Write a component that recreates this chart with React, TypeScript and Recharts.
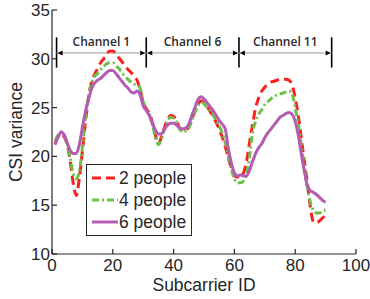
import React from 'react';
import { LineChart, Line, XAxis, YAxis, ReferenceLine, ReferenceDot, Label } from 'recharts';

const subcarrierIds = [
  1, 2, 3, 4, 5, 6, 7, 8, 9, 10, 11, 12, 13, 14, 15, 16, 17, 18, 19, 20,
  21, 22, 23, 24, 25, 26, 27, 28, 29, 30, 31, 32, 33, 34, 35, 36, 37, 38, 39, 40,
  41, 42, 43, 44, 45, 46, 47, 48, 49, 50, 51, 52, 53, 54, 55, 56, 57, 58, 59, 60,
  61, 62, 63, 64, 65, 66, 67, 68, 69, 70, 71, 72, 73, 74, 75, 76, 77, 78, 79, 80,
  81, 82, 83, 84, 85, 86, 87, 88, 89, 90,
];

const twoPeople = [
  21.3, 22.0, 22.3, 22.0, 21.2, 19.5, 17.2, 16.0, 17.8, 20.5,
  23.5, 26.0, 27.6, 28.4, 29.0, 29.6, 30.0, 30.5, 30.8, 30.8,
  30.5, 30.1, 29.7, 29.3, 28.9, 28.6, 28.2, 27.8, 26.8, 25.5,
  24.9, 24.4, 23.5, 22.2, 21.3, 22.0, 23.0, 23.8, 24.2, 24.1,
  23.6, 22.9, 22.6, 22.7, 23.0, 23.8, 24.6, 25.3, 25.7, 25.5,
  25.1, 24.6, 24.1, 23.5, 22.8, 22.0, 21.0, 19.8, 18.8, 18.0,
  17.9, 17.9, 18.3, 19.5, 21.5, 23.3, 25.0, 26.0, 26.7, 27.1,
  27.4, 27.6, 27.7, 27.8, 27.9, 27.9, 27.9, 27.8, 27.3, 26.0,
  24.2, 21.9, 19.5, 17.3, 14.8, 13.3, 13.2, 13.4, 13.7, 13.9,
];

const fourPeople = [
  21.6, 22.2, 22.5, 22.2, 21.3, 19.8, 18.2, 17.7, 18.5, 21.0,
  24.0, 26.2, 27.5, 28.2, 28.5, 28.9, 29.2, 29.5, 29.6, 29.6,
  29.3, 29.0, 28.6, 28.2, 27.9, 27.6, 27.4, 27.3, 27.0, 25.6,
  24.9, 24.3, 23.3, 22.0, 21.2, 21.8, 22.8, 23.6, 24.0, 23.9,
  23.5, 22.8, 22.5, 22.6, 22.9, 23.7, 24.5, 25.2, 25.5, 25.4,
  25.0, 24.6, 24.2, 23.7, 23.1, 22.4, 21.4, 20.0, 18.7, 17.7,
  17.3, 17.3, 17.5, 18.2, 20.0, 22.5, 23.6, 24.3, 24.8, 25.3,
  25.6, 25.9, 26.1, 26.3, 26.4, 26.5, 26.6, 26.7, 26.4, 25.0,
  23.3, 21.2, 18.9, 16.8, 15.3, 14.5, 14.2, 14.2, 14.4, 14.5,
];

const sixPeople = [
  21.2, 22.0, 22.5, 22.2, 21.4, 20.6, 20.3, 20.3, 21.2, 23.0,
  24.6, 25.8, 26.9, 27.5, 27.8, 28.0, 28.3, 28.6, 28.8, 28.8,
  28.5, 28.1, 27.7, 27.3, 27.0, 26.6, 26.5, 26.7, 26.3, 25.2,
  24.7, 24.2, 23.4, 22.7, 22.3, 22.3, 22.8, 23.2, 23.4, 23.4,
  23.2, 22.9, 22.8, 22.9, 23.3, 24.2, 25.0, 25.8, 26.1, 25.9,
  25.5, 25.1, 24.7, 24.2, 23.7, 23.3, 22.8, 20.8, 19.3, 18.3,
  18.0, 18.1, 18.0, 18.0, 18.6, 19.5, 20.3, 20.9, 21.3, 21.9,
  22.4, 22.8, 23.2, 23.6, 24.0, 24.2, 24.4, 24.5, 24.3, 23.6,
  22.2, 20.3, 18.5, 17.0, 16.5, 16.3, 16.1, 15.8, 15.5, 15.3,
];

const seriesNames = ['2 people', '4 people', '6 people'];
const seriesColors = ['#FF1F1F', '#6CC04A', '#B45CB4'];
const seriesDashes = ['9 5', '7 3 2 3', ''];

const xTicks = [0, 20, 40, 60, 80, 100];
const yTicks = [10, 15, 20, 25, 30, 35];

const channelNames = ['Channel 1', 'Channel 6', 'Channel 11'];
const channelBounds = [1.5, 31, 61.5, 92];
const channelBarLow = 29.1;
const channelBarHigh = 32.2;
const channelArrowY = 30.6;
const channelLabelY = 31.75;

const data = subcarrierIds.map((x, i) => ({
  x,
  s0: twoPeople[i],
  s1: fourPeople[i],
  s2: sixPeople[i],
}));

const FONT = '"Liberation Sans", Arial, sans-serif';
const TEXT = '#262626';

const ArrowHead = (dir: number) => (props: any) => {
  const { cx, cy } = props;
  const tip = cx + dir * 1;
  const base = cx + dir * 6;
  return (
    <polygon
      points={`${tip},${cy} ${base},${cy - 2.5} ${base},${cy + 2.5}`}
      fill="#000"
    />
  );
};

const ChannelText = (label: string) => (props: any) => {
  const { cx, cy } = props;
  return (
    <text
      x={cx}
      y={cy}
      textAnchor="middle"
      dominantBaseline="central"
      fontFamily='"Open Sans", sans-serif'
      fontWeight={600}
      fontSize={12}
      fill="#2a2a2a"
    >
      {label}
    </text>
  );
};

const LegendBox = () => (
  <div
    style={{
      position: 'absolute',
      left: 86,
      top: 164,
      width: 106,
      height: 72,
      boxSizing: 'border-box',
      border: '1.2px solid #262626',
      background: '#fff',
    }}
  >
    <svg width={104} height={70} style={{ position: 'absolute', left: 0, top: 0 }}>
      {seriesNames.map((name, i) => {
        const cy = 13 + i * 22;
        return (
          <g key={name}>
            <line
              x1={5}
              x2={31}
              y1={cy}
              y2={cy}
              stroke={seriesColors[i]}
              strokeWidth={3}
              strokeDasharray={seriesDashes[i] || undefined}
            />
            <text x={32} y={cy + 6.3} fontFamily={FONT} fontSize={17.5} fill={TEXT}>
              {name}
            </text>
          </g>
        );
      })}
    </svg>
  </div>
);

export default function App() {
  return (
    <div style={{ position: 'absolute', left: 0, top: 0, width: 370, height: 299, background: '#fff' }}>
      <LineChart
        width={370}
        height={299}
        data={data}
        margin={{ top: 10, right: 14, bottom: 0, left: 0 }}
      >
        <XAxis
          dataKey="x"
          type="number"
          domain={[0, 100]}
          ticks={xTicks}
          interval={0}
          allowDataOverflow
          stroke={TEXT}
          strokeWidth={1.2}
          tickSize={-5}
          tickMargin={10}
          height={45}
          tick={{ fill: TEXT, fontSize: 17, fontFamily: FONT }}
        >
          <Label
            value="Subcarrier ID"
            position="center"
            dy={8}
            style={{ fill: TEXT, fontSize: 17.5, fontFamily: FONT }}
          />
        </XAxis>
        <XAxis
          xAxisId="top"
          orientation="top"
          type="number"
          domain={[0, 100]}
          ticks={xTicks}
          interval={0}
          height={0}
          stroke={TEXT}
          strokeWidth={1.2}
          tickSize={-5}
          tickFormatter={() => ''}
        />
        <YAxis
          type="number"
          domain={[10, 35]}
          ticks={yTicks}
          interval={0}
          allowDataOverflow
          width={52}
          stroke={TEXT}
          strokeWidth={1.2}
          tickSize={-5}
          tickMargin={7}
          tick={{ fill: TEXT, fontSize: 17, fontFamily: FONT }}
        >
          <Label
            value="CSI variance"
            angle={-90}
            position="center"
            dx={-10}
            style={{ fill: TEXT, fontSize: 17.5, fontFamily: FONT, textAnchor: 'middle' }}
          />
        </YAxis>
        <YAxis
          yAxisId="right"
          orientation="right"
          type="number"
          domain={[10, 35]}
          ticks={yTicks}
          interval={0}
          width={0}
          stroke={TEXT}
          strokeWidth={1.2}
          tickSize={-5}
          tickFormatter={() => ''}
        />

        {channelBounds.map((b) => (
          <ReferenceLine
            key={`bar-${b}`}
            segment={[{ x: b, y: channelBarLow }, { x: b, y: channelBarHigh }]}
            stroke="#000"
            strokeWidth={1.6}
            ifOverflow="visible"
          />
        ))}
        {channelNames.map((name, i) => (
          <ReferenceLine
            key={`arrow-${name}`}
            segment={[
              { x: channelBounds[i], y: channelArrowY },
              { x: channelBounds[i + 1], y: channelArrowY },
            ]}
            stroke="#9a9a9a"
            strokeWidth={1}
            ifOverflow="visible"
          />
        ))}
        {channelNames.map((name, i) => (
          <ReferenceDot
            key={`ahl-${name}`}
            x={channelBounds[i]}
            y={channelArrowY}
            r={0}
            ifOverflow="visible"
            shape={ArrowHead(1)}
          />
        ))}
        {channelNames.map((name, i) => (
          <ReferenceDot
            key={`ahr-${name}`}
            x={channelBounds[i + 1]}
            y={channelArrowY}
            r={0}
            ifOverflow="visible"
            shape={ArrowHead(-1)}
          />
        ))}
        {channelNames.map((name, i) => (
          <ReferenceDot
            key={`lbl-${name}`}
            x={(channelBounds[i] + channelBounds[i + 1]) / 2}
            y={channelLabelY}
            r={0}
            ifOverflow="visible"
            shape={ChannelText(name)}
          />
        ))}

        {seriesNames.map((name, i) => (
          <Line
            key={name}
            dataKey={`s${i}`}
            name={name}
            type="monotone"
            stroke={seriesColors[i]}
            strokeWidth={3}
            strokeDasharray={seriesDashes[i] || undefined}
            dot={false}
            activeDot={false}
            isAnimationActive={false}
          />
        ))}
      </LineChart>
      <LegendBox />
    </div>
  );
}
